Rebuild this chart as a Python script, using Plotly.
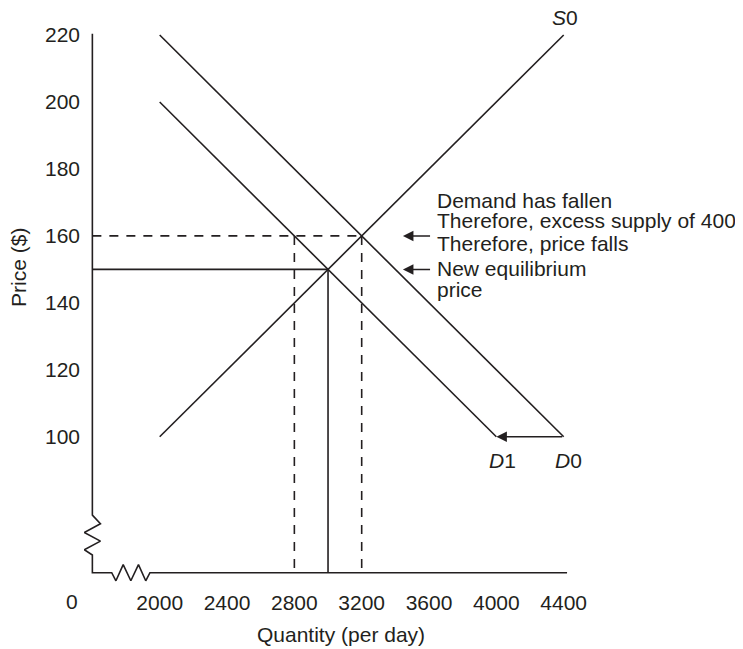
import plotly.graph_objects as go

# ---------------- data ----------------
supply_q = [2000, 4400]
supply_p = [100, 220]
demand0_q = [2000, 4400]
demand0_p = [220, 100]
demand1_q = [2000, 4000]
demand1_p = [200, 100]
old_eq_q = 3200
old_eq_p = 160
new_eq_q = 3000
new_eq_p = 150
new_qd_at_old_price = 2800
x_tick_vals = [2000, 2400, 2800, 3200, 3600, 4000, 4400]
y_tick_vals = [100, 120, 140, 160, 180, 200, 220]
note_lines = ["Demand has fallen", "Therefore, excess supply of 400", "Therefore, price falls"]
new_eq_lines = ["New equilibrium", "price"]

# ---------------- styling / geometry ----------------
INK = "#231f20"
FONT = "Liberation Sans, Arial, Helvetica, sans-serif"
FS = 21
LW = 1.6

X_RANGE = [1550.3, 4615.7]
Y_RANGE = [54.84, 227.48]
AXIS_Q = 1600      # position of the vertical (price) axis
AXIS_P = 59.4      # position of the horizontal (quantity) axis
AXIS_TOP = 220.4
AXIS_RIGHT = 4420

# axis breaks (zigzags)
YB_TOP, YB_BOT, YB_AMP = 76.6, 64.7, 48
XB_LEFT, XB_RIGHT, XB_AMP = 1715, 1942, 2.4

fig = go.Figure()


def line(xs, ys, dash=None):
    fig.add_trace(go.Scatter(x=xs, y=ys, mode="lines",
                             line=dict(color=INK, width=LW, dash=dash),
                             hoverinfo="skip", showlegend=False))


# vertical axis with break
yf = [0, 1, 2, 3, 4, 4.6]
ys_sign = [0, 1, -1, 1, -1, 0]
vx = [AXIS_Q, AXIS_Q]
vy = [AXIS_TOP, YB_TOP]
for f, s in zip(yf, ys_sign):
    vx.append(AXIS_Q + s * YB_AMP)
    vy.append(YB_TOP - (YB_TOP - YB_BOT) * f / yf[-1])
vx.append(AXIS_Q)
vy.append(AXIS_P)
# horizontal axis with break
xf = [0, 0.55, 1.5, 2.5, 3.5, 4.45, 5]
xs_sign = [0, -1, 1, -1, 1, -1, 0]
for f, s in zip(xf, xs_sign):
    vx.append(XB_LEFT + (XB_RIGHT - XB_LEFT) * f / xf[-1])
    vy.append(AXIS_P + s * XB_AMP)
vx.append(AXIS_RIGHT)
vy.append(AXIS_P)
line(vx, vy)

# curves
line(supply_q, supply_p)
line(demand0_q, demand0_p)
line(demand1_q, demand1_p)

# dashed guides (old equilibrium)
DASH = "9px,8px"
line([AXIS_Q, old_eq_q], [old_eq_p, old_eq_p], DASH)
line([old_eq_q, old_eq_q], [old_eq_p, AXIS_P], DASH)
line([new_qd_at_old_price, new_qd_at_old_price], [old_eq_p, AXIS_P], DASH)
# solid guides (new equilibrium)
line([AXIS_Q, new_eq_q], [new_eq_p, new_eq_p])
line([new_eq_q, new_eq_q], [new_eq_p, AXIS_P])

ann = []
tf = dict(family=FONT, size=FS, color=INK)

# shift arrow D0 -> D1
ann.append(dict(x=demand1_q[-1], y=demand1_p[-1], ax=demand0_q[-1], ay=demand0_p[-1],
                xref="x", yref="y", axref="x", ayref="y", text="", showarrow=True,
                arrowhead=2, arrowsize=1.4, arrowwidth=1.5, arrowcolor=INK))

# curve labels
ann.append(dict(x=supply_q[-1], y=supply_p[-1], text="<i>S</i>0", showarrow=False,
                xref="x", yref="y", yshift=18, xshift=1, font=tf))
ann.append(dict(x=demand1_q[-1], y=demand1_p[-1], text="<i>D</i>1", showarrow=False,
                xref="x", yref="y", yshift=-24, xshift=6, font=tf))
ann.append(dict(x=demand0_q[-1], y=demand0_p[-1], text="<i>D</i>0", showarrow=False,
                xref="x", yref="y", yshift=-24, xshift=5, font=tf))

# explanatory notes with arrows
ARROW_HEAD_Q = 3445
ARROW_TAIL_Q = 3615
TEXT_Q = 3633
for p in (old_eq_p, new_eq_p):
    ann.append(dict(x=ARROW_HEAD_Q, y=p, ax=ARROW_TAIL_Q, ay=p, xref="x", yref="y",
                    axref="x", ayref="y", text="", showarrow=True,
                    arrowhead=2, arrowsize=1.4, arrowwidth=1.5, arrowcolor=INK))
note_p = [170.61, 164.46, 157.68]
for t, p in zip(note_lines, note_p):
    ann.append(dict(x=TEXT_Q, y=p, text=t, showarrow=False, xref="x", yref="y",
                    xanchor="left", yanchor="middle", font=tf))
neq_p = [150.3, 144.03]
for t, p in zip(new_eq_lines, neq_p):
    ann.append(dict(x=TEXT_Q, y=p, text=t, showarrow=False, xref="x", yref="y",
                    xanchor="left", yanchor="middle", font=tf))

# origin label and axis titles
ann.append(dict(x=-0.0238, y=-0.0242, xref="paper", yref="paper", text="0",
                showarrow=False, xanchor="center", yanchor="middle", font=tf))
ann.append(dict(x=0.498, y=-0.0796, xref="paper", yref="paper", text="Quantity (per day)",
                showarrow=False, xanchor="center", yanchor="middle", font=tf))
ann.append(dict(x=-0.126, y=0.5554, xref="paper", yref="paper", text="Price ($)",
                showarrow=False, xanchor="center", yanchor="middle", textangle=-90, font=tf))

# the page body adds an 8px offset, so the figure is drawn 8px smaller
fig.update_layout(
    width=735, height=641,
    margin=dict(l=76, r=143, t=2, b=61),
    paper_bgcolor="white", plot_bgcolor="white",
    showlegend=False,
    annotations=ann,
    xaxis=dict(range=X_RANGE, tickvals=x_tick_vals, ticktext=[str(v) for v in x_tick_vals],
               showgrid=False, zeroline=False, showline=False, ticks="",
               tickfont=tf, fixedrange=True),
    yaxis=dict(range=Y_RANGE, tickvals=y_tick_vals, ticktext=[str(v) for v in y_tick_vals],
               showgrid=False, zeroline=False, showline=False, ticks="",
               tickfont=tf, fixedrange=True, ticklabelstandoff=3),
)

fig.write_html("out.html")
